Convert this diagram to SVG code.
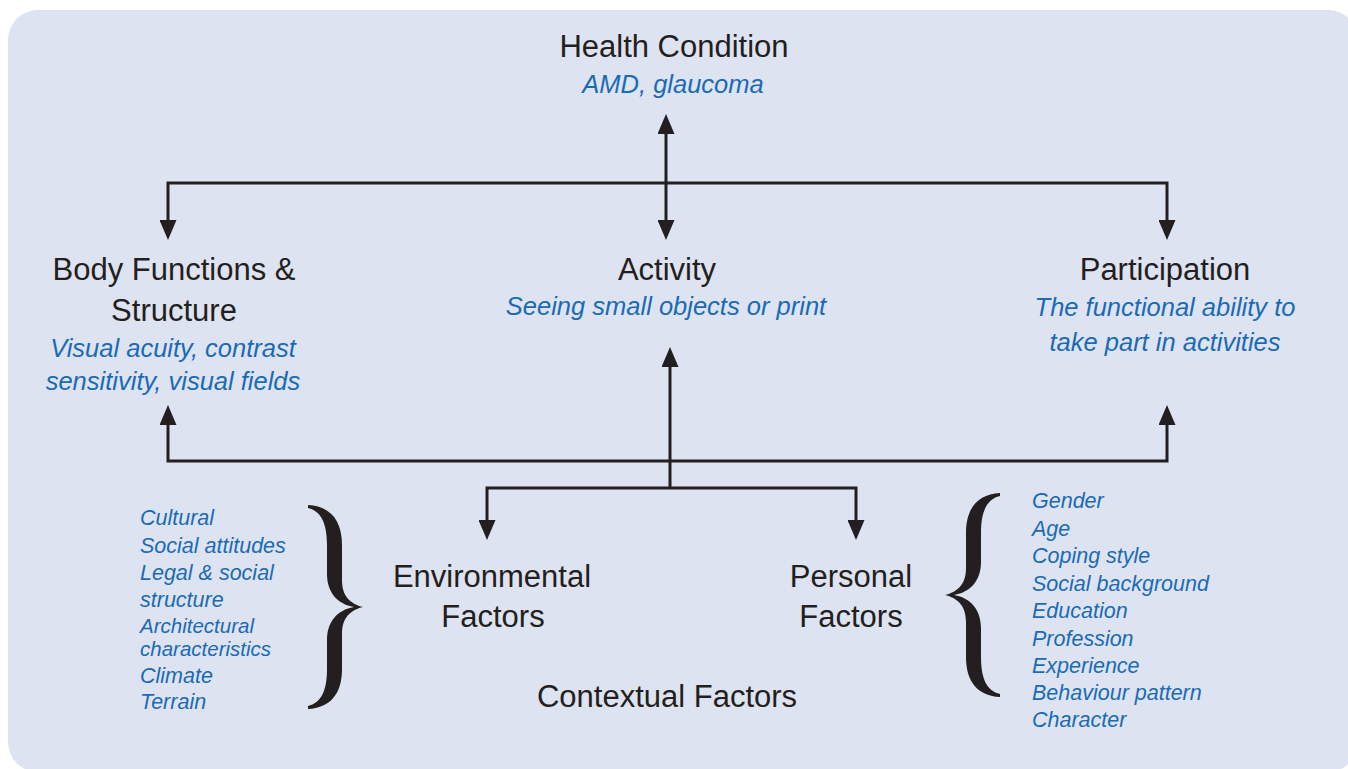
<svg xmlns="http://www.w3.org/2000/svg" width="1348" height="769" viewBox="0 0 1348 769">
<style>
.head{font-family:"Liberation Sans",Arial,sans-serif;font-size:31px;fill:#231f20;text-anchor:middle}
.sub{font-family:"Liberation Sans",Arial,sans-serif;font-size:25.5px;font-style:italic;fill:#1a6bb4;text-anchor:middle}
.list{font-family:"Liberation Sans",Arial,sans-serif;font-size:21.5px;font-style:italic;fill:#1a6bb4}
.tight{font-size:20.5px}
.conn{fill:none;stroke:#231f20;stroke-width:3;marker-end:url(#ah)}
.both{marker-start:url(#ah)}
.brace{fill:#231f20}
</style>
<defs>
<marker id="ah" viewBox="0 0 20 17" refX="10" refY="8.5" markerWidth="20" markerHeight="17" markerUnits="userSpaceOnUse" orient="auto-start-reverse">
<path d="M0,0 L20,8.5 L0,17 Z" fill="#231f20"/>
</marker>
<path id="br" d="M-55,-102 C-33,-101 -21,-87 -21,-62 L-21,-27 C-21,-10 -12,-3 0,0 C-12,3 -21,10 -21,27 L-21,62 C-21,87 -33,101 -55,102 L-55,99 C-42,96 -36,84 -36,62 L-36,33 C-36,15 -26,3 -9,0 C-26,-3 -36,-15 -36,-33 L-36,-62 C-36,-84 -42,-96 -55,-99 Z"/>
</defs>
<rect x="8" y="10" width="1350" height="762" rx="30" fill="#dee3f1"/>
<g id="connectors">
<path class="conn both" d="M666,124 L666,230"/>
<path class="conn both" d="M168,230 L168,183 L1167,183 L1167,230"/>
<path class="conn both" d="M168,415 L168,461 L1167,461 L1167,415"/>
<path class="conn" d="M670,488 L670,357"/>
<path class="conn both" d="M487,530 L487,488 L856,488 L856,530"/>
</g>
<g id="health-condition">
<text class="head" x="674" y="57">Health Condition</text>
<text class="sub" x="673" y="93">AMD, glaucoma</text>
</g>
<g id="body-functions">
<text class="head" x="174" y="280">Body Functions &amp;</text>
<text class="head" x="174" y="321">Structure</text>
<text class="sub" x="173" y="357">Visual acuity, contrast</text>
<text class="sub" x="173" y="390">sensitivity, visual fields</text>
</g>
<g id="activity">
<text class="head" x="667" y="280">Activity</text>
<text class="sub" x="666" y="315">Seeing small objects or print</text>
</g>
<g id="participation">
<text class="head" x="1165" y="280">Participation</text>
<text class="sub" x="1165" y="316">The functional ability to</text>
<text class="sub" x="1165" y="351">take part in activities</text>
</g>
<g id="environmental-factors">
<text class="head" x="492" y="587">Environmental</text>
<text class="head" x="493" y="627">Factors</text>
<use href="#br" class="brace" transform="translate(363,607)"/>
<text class="list" x="140" y="525">Cultural</text>
<text class="list" x="140" y="553">Social attitudes</text>
<text class="list" x="140" y="580">Legal &amp; social</text>
<text class="list" x="140" y="607">structure</text>
<text class="list tight" x="140" y="633">Architectural</text>
<text class="list tight" x="140" y="656">characteristics</text>
<text class="list" x="140" y="683">Climate</text>
<text class="list" x="140" y="709">Terrain</text>
</g>
<g id="personal-factors">
<text class="head" x="851" y="587">Personal</text>
<text class="head" x="851" y="627">Factors</text>
<use href="#br" class="brace" transform="translate(945,595) scale(-1,1)"/>
<text class="list" x="1032" y="508">Gender</text>
<text class="list" x="1032" y="536">Age</text>
<text class="list" x="1032" y="563">Coping style</text>
<text class="list" x="1032" y="591">Social background</text>
<text class="list" x="1032" y="618">Education</text>
<text class="list" x="1032" y="646">Profession</text>
<text class="list" x="1032" y="673">Experience</text>
<text class="list" x="1032" y="700">Behaviour pattern</text>
<text class="list" x="1032" y="727">Character</text>
</g>
<g id="contextual-factors">
<text class="head" x="667" y="707">Contextual Factors</text>
</g>
</svg>
